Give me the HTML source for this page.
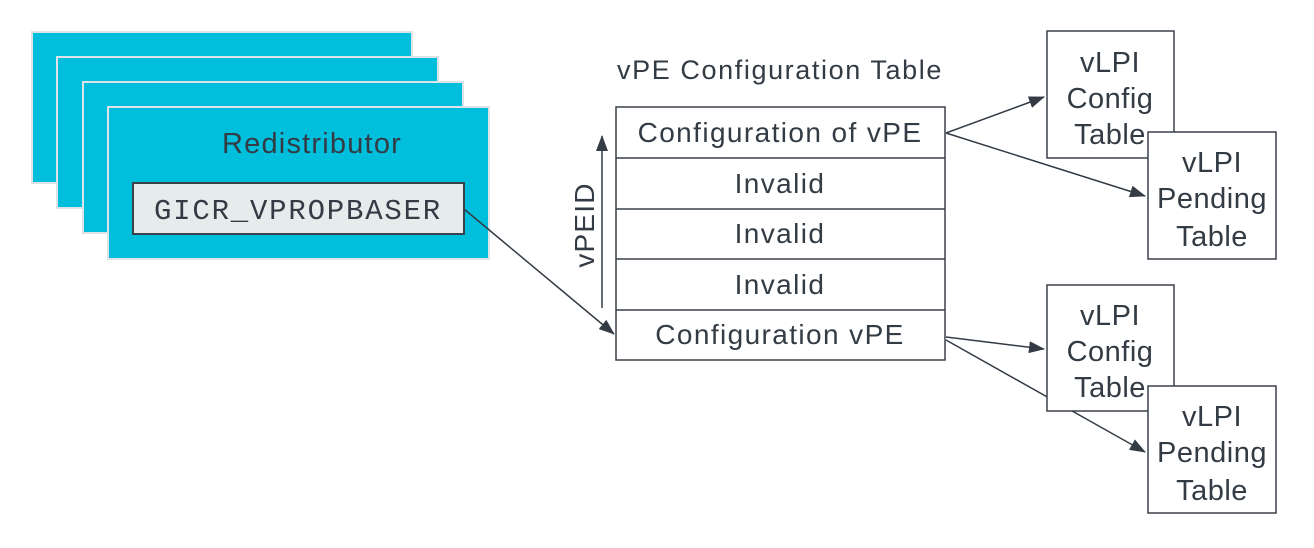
<!DOCTYPE html>
<html><head><style>
body{margin:0;width:1314px;height:543px;background:#fff;overflow:hidden}
svg text{font-family:"Liberation Sans",sans-serif;fill:#333b45}
</style></head><body>
<svg width="1314" height="543" viewBox="0 0 1314 543">
<defs><marker id="a" markerWidth="16" markerHeight="12" refX="15" refY="6" orient="auto" markerUnits="userSpaceOnUse"><path d="M0,0 L16,6 L0,12 z" fill="#333b45"/></marker></defs>
<g fill="#00bfdd" stroke="#dde3e6" stroke-width="2">
<rect x="32" y="32" width="380" height="151"/>
<rect x="57" y="57" width="381" height="151"/>
<rect x="83" y="82" width="380" height="151"/>
<rect x="108" y="107" width="381" height="152"/>
</g>
<text x="312" y="153" font-size="29" letter-spacing="1.2" text-anchor="middle">Redistributor</text>
<rect x="133" y="183" width="331" height="51" fill="#e6ebeb" stroke="#3a4148" stroke-width="2"/>
<text x="298" y="219" font-size="29" letter-spacing="1.8" text-anchor="middle" style="font-family:'Liberation Mono',monospace" fill="#5a5f63">GICR_VPROPBASER</text>
<text x="780" y="79" font-size="27" letter-spacing="1.6" text-anchor="middle">vPE Configuration Table</text>
<g fill="#fff" stroke="#3a4148" stroke-width="1.5">
<rect x="616" y="107" width="329" height="253"/>
<line x1="616" y1="158" x2="945" y2="158"/><line x1="616" y1="209" x2="945" y2="209"/>
<line x1="616" y1="259" x2="945" y2="259"/><line x1="616" y1="310" x2="945" y2="310"/>
</g>
<g font-size="28" letter-spacing="1.4" text-anchor="middle">
<text x="780" y="142">Configuration of vPE</text>
<text x="780" y="193">Invalid</text>
<text x="780" y="243">Invalid</text>
<text x="780" y="294">Invalid</text>
<text x="780" y="344">Configuration vPE</text>
</g>
<line x1="602" y1="308" x2="602" y2="136" stroke="#333b45" stroke-width="1.5" marker-end="url(#a)"/>
<text transform="translate(594,225) rotate(-90)" font-size="28" letter-spacing="1.2" text-anchor="middle">vPEID</text>
<g stroke="#333b45" stroke-width="1.5" fill="none" marker-end="url(#a)">
<line x1="464" y1="209" x2="614" y2="334"/>
<line x1="946" y1="133" x2="1044" y2="97"/>
<line x1="946" y1="133" x2="1145" y2="196"/>
<line x1="946" y1="337" x2="1044" y2="349"/>
<line x1="946" y1="340" x2="1145" y2="452"/>
</g>
<g fill="#fff" stroke="#3a4148" stroke-width="1.5">
<rect x="1047" y="31" width="127" height="127"/>
<rect x="1047" y="285" width="127" height="126"/>
</g>
<g font-size="29" letter-spacing="0.5" text-anchor="middle">
<text x="1110" y="72">vLPI</text><text x="1110" y="108">Config</text><text x="1110" y="144">Table</text>
<text x="1110" y="325">vLPI</text><text x="1110" y="361">Config</text><text x="1110" y="397">Table</text>
</g>
<g fill="#fff" stroke="#3a4148" stroke-width="1.5">
<rect x="1148" y="132" width="128" height="127"/>
<rect x="1148" y="386" width="128" height="127"/>
</g>
<g font-size="29" letter-spacing="0.5" text-anchor="middle">
<text x="1212" y="172">vLPI</text><text x="1212" y="208">Pending</text><text x="1212" y="246">Table</text>
<text x="1212" y="426">vLPI</text><text x="1212" y="462">Pending</text><text x="1212" y="500">Table</text>
</g>
</svg>
</body></html>
